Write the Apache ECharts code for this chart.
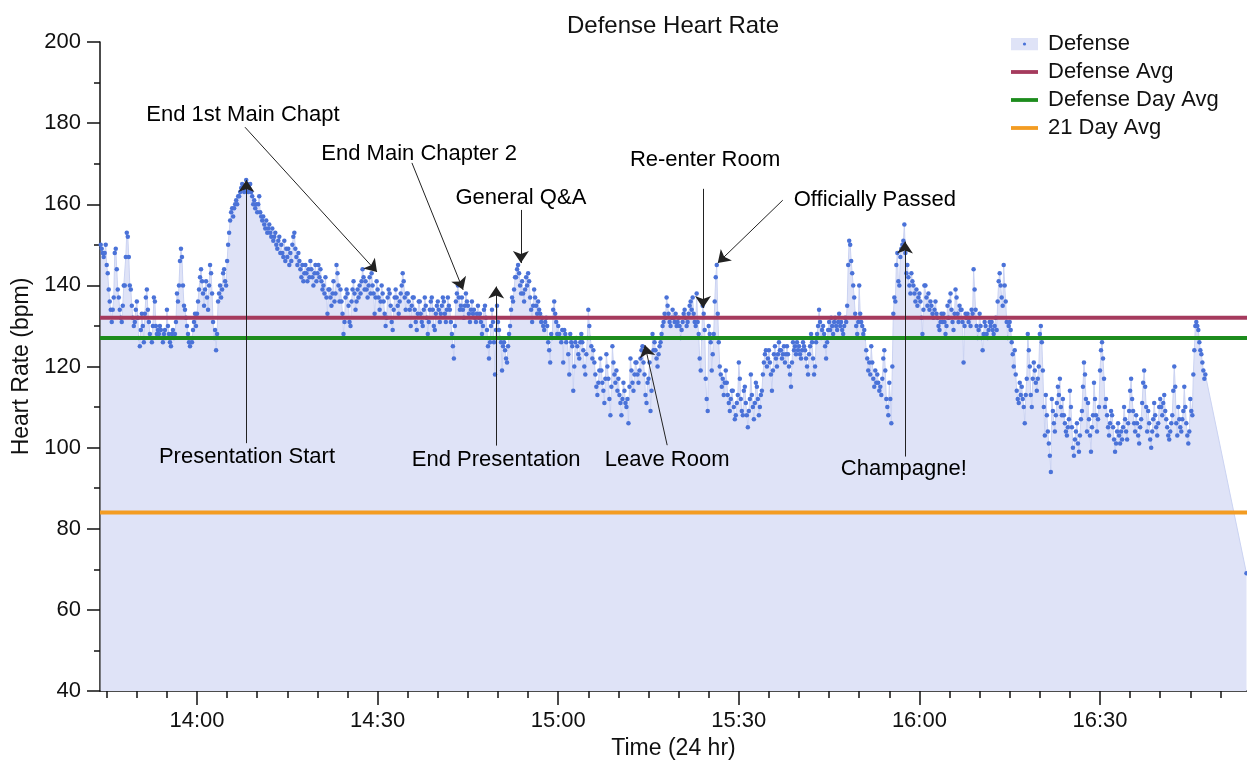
<!DOCTYPE html>
<html><head><meta charset="utf-8">
<script src="https://cdn.jsdelivr.net/npm/echarts@6/dist/echarts.min.js"></script>
<style>html,body{margin:0;padding:0;background:#fff}#chart{width:1247px;height:760px}</style>
</head><body><div id="chart"></div>
<script>
const chartTitle = 'Defense Heart Rate';
const seriesName = 'Defense';
const xAxisName = 'Time (24 hr)';
const yAxisName = 'Heart Rate (bpm)';
const hrStart = '13:44:00';
const hrStepSec = 10;
const hrValues = [
150,149,148,147,148,150,
145,143,139,136,134,131,
134,137,148,149,144,139,
137,134,132,131,135,140,
140,147,153,152,147,140,
139,135,132,130,131,134,
136,132,127,125,129,133,
130,126,133,137,139,134,
131,128,127,126,130,137,
136,130,128,129,128,130,
129,127,126,128,129,127,
134,130,128,126,125,128,
129,127,128,131,138,136,
140,146,149,147,140,135,
134,132,130,128,126,125,
127,126,129,131,133,130,
133,136,139,142,144,141,
138,135,139,141,137,134,
140,145,143,138,131,127,
129,124,128,136,138,140,
137,139,143,144,141,140,
146,150,153,156,158,159,
157,159,160,161,160,162,
162,163,164,165,164,163,
164,166,165,163,164,165,
163,162,160,161,159,160,
158,160,162,158,157,156,
157,155,154,156,153,154,
155,153,152,154,151,152,
153,150,149,151,152,148,
150,148,147,151,146,149,
147,149,145,148,146,150,
152,153,149,147,145,148,
146,144,142,145,141,143,
145,143,141,144,142,146,
144,142,140,143,145,141,
143,145,142,144,141,139,
140,138,142,137,133,139,
139,137,135,138,141,136,
138,145,143,140,136,139,
136,133,128,131,137,139,
138,135,131,130,136,139,
141,138,134,136,139,137,
140,138,141,144,142,139,
141,139,137,140,142,138,
143,140,138,133,137,141,
139,137,134,136,140,138,
136,133,130,132,137,139,
138,135,131,129,134,137,
139,137,135,133,136,138,
140,143,141,137,134,138,
138,136,134,130,135,137,
137,134,131,129,133,136,
136,133,131,130,134,137,
135,132,128,131,134,136,
137,134,130,129,133,135,
136,134,131,133,135,137,
136,133,131,134,137,135,
134,131,128,125,122,130,
136,138,140,137,134,135,
137,134,132,135,138,136,
135,133,131,134,136,133,
134,132,131,133,135,132,
133,131,128,130,134,135,
132,129,125,122,126,130,
134,131,126,118,129,135,
131,129,127,126,119,125,
126,124,122,121,125,128,
130,134,137,136,139,142,
142,144,145,143,140,138,
141,138,136,139,142,140,
143,141,137,134,131,135,
139,137,135,133,136,134,
133,131,132,130,129,131,
132,130,126,124,121,128,
127,134,136,133,131,128,
130,128,127,126,129,121,
129,128,126,127,123,118,
128,126,125,114,120,126,
127,125,123,122,126,128,
126,124,120,118,123,127,
134,130,127,125,122,124,
121,118,115,113,116,119,
122,119,116,114,111,117,
123,120,117,112,108,115,
125,121,118,116,119,114,
117,113,111,108,112,116,
114,111,110,112,106,115,
122,119,116,114,118,121,
121,118,116,119,122,124,
125,121,118,113,111,116,
117,121,109,114,128,124,
126,124,122,120,123,125,
126,128,130,131,133,132,
137,135,133,131,130,132,
134,132,131,133,130,131,
132,130,127,129,131,133,
134,132,130,131,133,135,
136,134,137,133,131,130,
138,131,128,122,119,127,
135,133,129,117,112,109,
130,128,126,119,123,128,
136,142,145,133,126,120,
118,115,117,113,116,119,
116,113,111,109,112,114,
114,110,107,108,111,113,
121,117,112,109,108,114,
115,111,108,105,109,112,
118,113,110,107,111,116,
115,112,108,110,113,114,
118,121,123,124,120,122,
124,121,118,114,119,123,
125,122,120,123,126,124,
124,122,123,125,121,123,
125,123,120,118,115,121,
126,124,125,123,126,124,
125,123,122,124,126,125,
124,122,120,118,123,125,
128,126,122,118,120,126,
128,130,134,131,127,129,
130,128,125,122,126,129,
131,129,132,130,128,131,
132,130,129,131,133,130,
131,129,128,130,132,131,
135,145,151,150,146,143,
140,137,133,130,128,131,
140,133,131,130,128,129,
127,124,122,119,121,118,
125,121,117,115,119,116,
118,116,114,115,113,117,
122,124,119,112,110,108,
116,112,106,120,133,137,
136,145,148,141,140,147,
149,150,151,155,148,143,
145,142,140,138,143,141,
140,138,136,139,135,137,
138,136,132,128,134,140,
140,137,135,138,134,136,
135,133,132,134,136,133,
132,130,129,131,133,131,
133,131,128,130,135,132,
136,138,134,131,129,133,
139,137,133,131,135,134,
134,131,121,130,133,132,
133,131,132,130,134,133,
144,139,134,130,127,129,
133,130,127,124,128,131,
130,128,127,129,131,130,
131,129,128,130,132,129,
136,141,143,140,137,135,
145,140,136,131,127,130,
131,129,126,123,120,124,
118,114,112,111,116,113,
115,112,110,106,113,117,
128,124,120,113,110,117,
121,119,116,114,117,120,
128,130,126,119,110,103,
113,108,104,101,98,94,
112,109,106,104,108,111,
115,113,117,110,108,112,
108,106,104,103,105,107,
114,110,105,100,98,102,
104,106,101,99,103,107,
109,115,121,118,112,104,
111,107,103,99,105,108,
116,112,108,104,107,110,
119,124,126,122,117,110,
112,108,105,103,106,109,
108,105,102,99,101,104,
106,103,101,104,102,105,
110,107,104,102,106,109,
114,117,112,109,106,104,
108,106,103,101,105,107,
111,116,119,115,110,104,
109,106,102,100,104,107,
111,108,105,103,106,110,
112,110,108,111,113,109,
107,105,103,102,104,106,
108,114,120,115,106,103,
110,107,105,104,107,109,
115,110,106,103,101,104,
112,109,108,118,124,130,
131,130,129,126,124,123,
121,119,117,118
];
const finalReadingTime = '16:54:20';
const finalReadingBpm = 69;
const avgNames = ['Defense Avg', 'Defense Day Avg', '21 Day Avg'];
const avgValues = [132, 127, 84];
const xTickLabels = ['14:00', '14:30', '15:00', '15:30', '16:00', '16:30'];
const xRange = ['13:43:53', '16:54:25'];
const yRange = [40, 200];
const yStep = 20;
const noteTexts = ['End 1st Main Chapt', 'End Main Chapter 2', 'General Q&A', 'Re-enter Room', 'Officially Passed', 'Presentation Start', 'End Presentation', 'Leave Room', 'Champagne!'];
const noteTextAt = [['14:07:38', 182.0], ['14:36:54', 172.4], ['14:53:48', 161.5], ['15:24:24', 170.9], ['15:52:36', 161.0], ['14:08:18', 97.7], ['14:49:42', 96.9], ['15:18:06', 96.9], ['15:57:24', 94.7]];
const noteArrowFrom = [['14:07:58', 179.0], ['14:35:42', 170.2], ['14:53:48', 158.6], ['15:24:03', 163.8], ['15:37:18', 161.0], ['14:08:12', 101.1], ['14:49:42', 100.5], ['15:18:06', 100.6], ['15:57:36', 97.8]];
const noteArrowTo = [['14:29:54', 143.3], ['14:44:12', 138.9], ['14:53:48', 145.5], ['15:24:03', 134.4], ['15:26:30', 145.5], ['14:08:12', 166.0], ['14:49:42', 139.7], ['15:14:24', 125.3], ['15:57:36', 150.8]];

const COLORS = { fill: '#dfe3f7', dot: '#4a72d8', line: '#cbd3f2', avg: ['#a53a5d', '#1d8c1d', '#f39c22'], ink: '#111' };
const FONT = "'Liberation Sans', Arial, Helvetica, sans-serif";

function toMin(s) { const p = s.split(':').map(Number); return p[0] * 60 + p[1] + (p[2] || 0) / 60; }
function fmt(v) { const h = Math.floor(v / 60), m = Math.round(v - h * 60); return h + ':' + (m < 10 ? '0' : '') + m; }

const xMin = toMin(xRange[0]), xMax = toMin(xRange[1]);
const t0 = toMin(hrStart);
const hrData = hrValues.map((v, i) => [t0 + i * hrStepSec / 60, v]);
hrData.push([toMin(finalReadingTime), finalReadingBpm]);
const majorTicks = xTickLabels.map(toMin);
const minorTicks = [];
for (let m = Math.ceil(xMin / 5) * 5; m <= xMax; m += 5) { if (majorTicks.indexOf(m) < 0) minorTicks.push(m); }

function svgIcon(inner) { return 'image://data:image/svg+xml;charset=utf-8,' + encodeURIComponent("<svg xmlns='http://www.w3.org/2000/svg' width='27' height='13' viewBox='0 0 27 13'>" + inner + "</svg>"); }
const legendData = [{ name: seriesName, icon: svgIcon("<rect width='27' height='13' fill='" + COLORS.fill + "'/><circle cx='13.5' cy='6.5' r='1.6' fill='" + COLORS.dot + "'/>") }]
  .concat(avgNames.map((n, i) => ({ name: n, icon: svgIcon("<rect y='4.6' width='27' height='3.8' fill='" + COLORS.avg[i] + "'/>") })));

const series = [{
  name: seriesName, type: 'line', data: hrData, z: 2,
  symbol: 'circle', symbolSize: 4.5, showAllSymbol: true, sampling: null,
  itemStyle: { color: COLORS.dot, borderWidth: 0 },
  lineStyle: { color: COLORS.line, width: 1 },
  areaStyle: { color: COLORS.fill, opacity: 1, origin: 'start' }
}];
avgNames.forEach((n, i) => series.push({
  name: n, type: 'line', z: 4, symbol: 'none', silent: true,
  data: [[xMin, avgValues[i]], [xMax, avgValues[i]]],
  lineStyle: { color: COLORS.avg[i], width: 4 }
}));
series.push({
  name: 'notes', type: 'scatter', z: 6, symbolSize: 0, silent: true,
  itemStyle: { color: 'rgba(0,0,0,0)' },
  data: noteTexts.map((t, i) => ({ name: t, value: [toMin(noteTextAt[i][0]), noteTextAt[i][1]] })),
  label: { show: true, position: 'inside', formatter: '{b}', fontSize: 22, color: '#000', textBorderWidth: 0, textBorderColor: 'transparent', textShadowBlur: 0, opacity: 1, fontFamily: FONT },
  markLine: {
    silent: true, symbol: ['none', 'arrow'], symbolSize: 12, animation: false,
    lineStyle: { color: '#222', width: 1, type: 'solid' },
    label: { show: false },
    data: noteArrowFrom.map((f, i) => [{ coord: [toMin(f[0]), f[1]] }, { coord: [toMin(noteArrowTo[i][0]), noteArrowTo[i][1]] }])
  }
});

const chart = echarts.init(document.getElementById('chart'));
chart.setOption({
  animation: false,
  textStyle: { fontFamily: FONT },
  title: { text: chartTitle, left: 567, top: 14, padding: 0, textStyle: { fontSize: 24, fontWeight: 'normal', color: COLORS.ink, fontFamily: FONT } },
  legend: {
    data: legendData, orient: 'vertical', left: 1011, top: 33, padding: 0, itemGap: 6,
    itemWidth: 27, itemHeight: 13, selectedMode: false,
    textStyle: { fontSize: 22, color: COLORS.ink, fontFamily: FONT, padding: [0, 0, 0, 5] }
  },
  grid: { left: 100, right: 0, top: 42, bottom: 69, containLabel: false, outerBoundsMode: 'none' },
  xAxis: [{
    type: 'value', min: xMin, max: xMax, position: 'bottom',
    name: xAxisName, nameLocation: 'middle', nameGap: 46,
    nameTextStyle: { fontSize: 23, color: COLORS.ink, fontFamily: FONT },
    axisLine: { show: true, lineStyle: { color: COLORS.ink, width: 1.5 } },
    axisTick: { show: true, customValues: majorTicks, length: 14, lineStyle: { color: COLORS.ink, width: 1.5 } },
    axisLabel: { customValues: majorTicks, formatter: fmt, fontSize: 22, margin: 19, color: COLORS.ink, fontFamily: FONT },
    splitLine: { show: false }
  }, {
    type: 'value', min: xMin, max: xMax, position: 'bottom', offset: 0,
    axisLine: { show: false },
    axisTick: { show: true, customValues: minorTicks, length: 7, lineStyle: { color: COLORS.ink, width: 1.5 } },
    axisLabel: { show: false }, splitLine: { show: false }
  }],
  yAxis: {
    type: 'value', min: yRange[0], max: yRange[1], interval: yStep,
    name: yAxisName, nameLocation: 'middle', nameGap: 64, nameRotate: 90,
    nameTextStyle: { fontSize: 23, color: COLORS.ink, fontFamily: FONT },
    axisLine: { show: true, lineStyle: { color: COLORS.ink, width: 1.5 } },
    axisTick: { show: true, length: 13, lineStyle: { color: COLORS.ink, width: 1.5 } },
    minorTick: { show: true, splitNumber: 2, length: 6, lineStyle: { color: COLORS.ink, width: 1.5 } },
    axisLabel: { fontSize: 22, margin: 19, color: COLORS.ink, fontFamily: FONT },
    splitLine: { show: false }
  },
  series: series
});
</script></body></html>
